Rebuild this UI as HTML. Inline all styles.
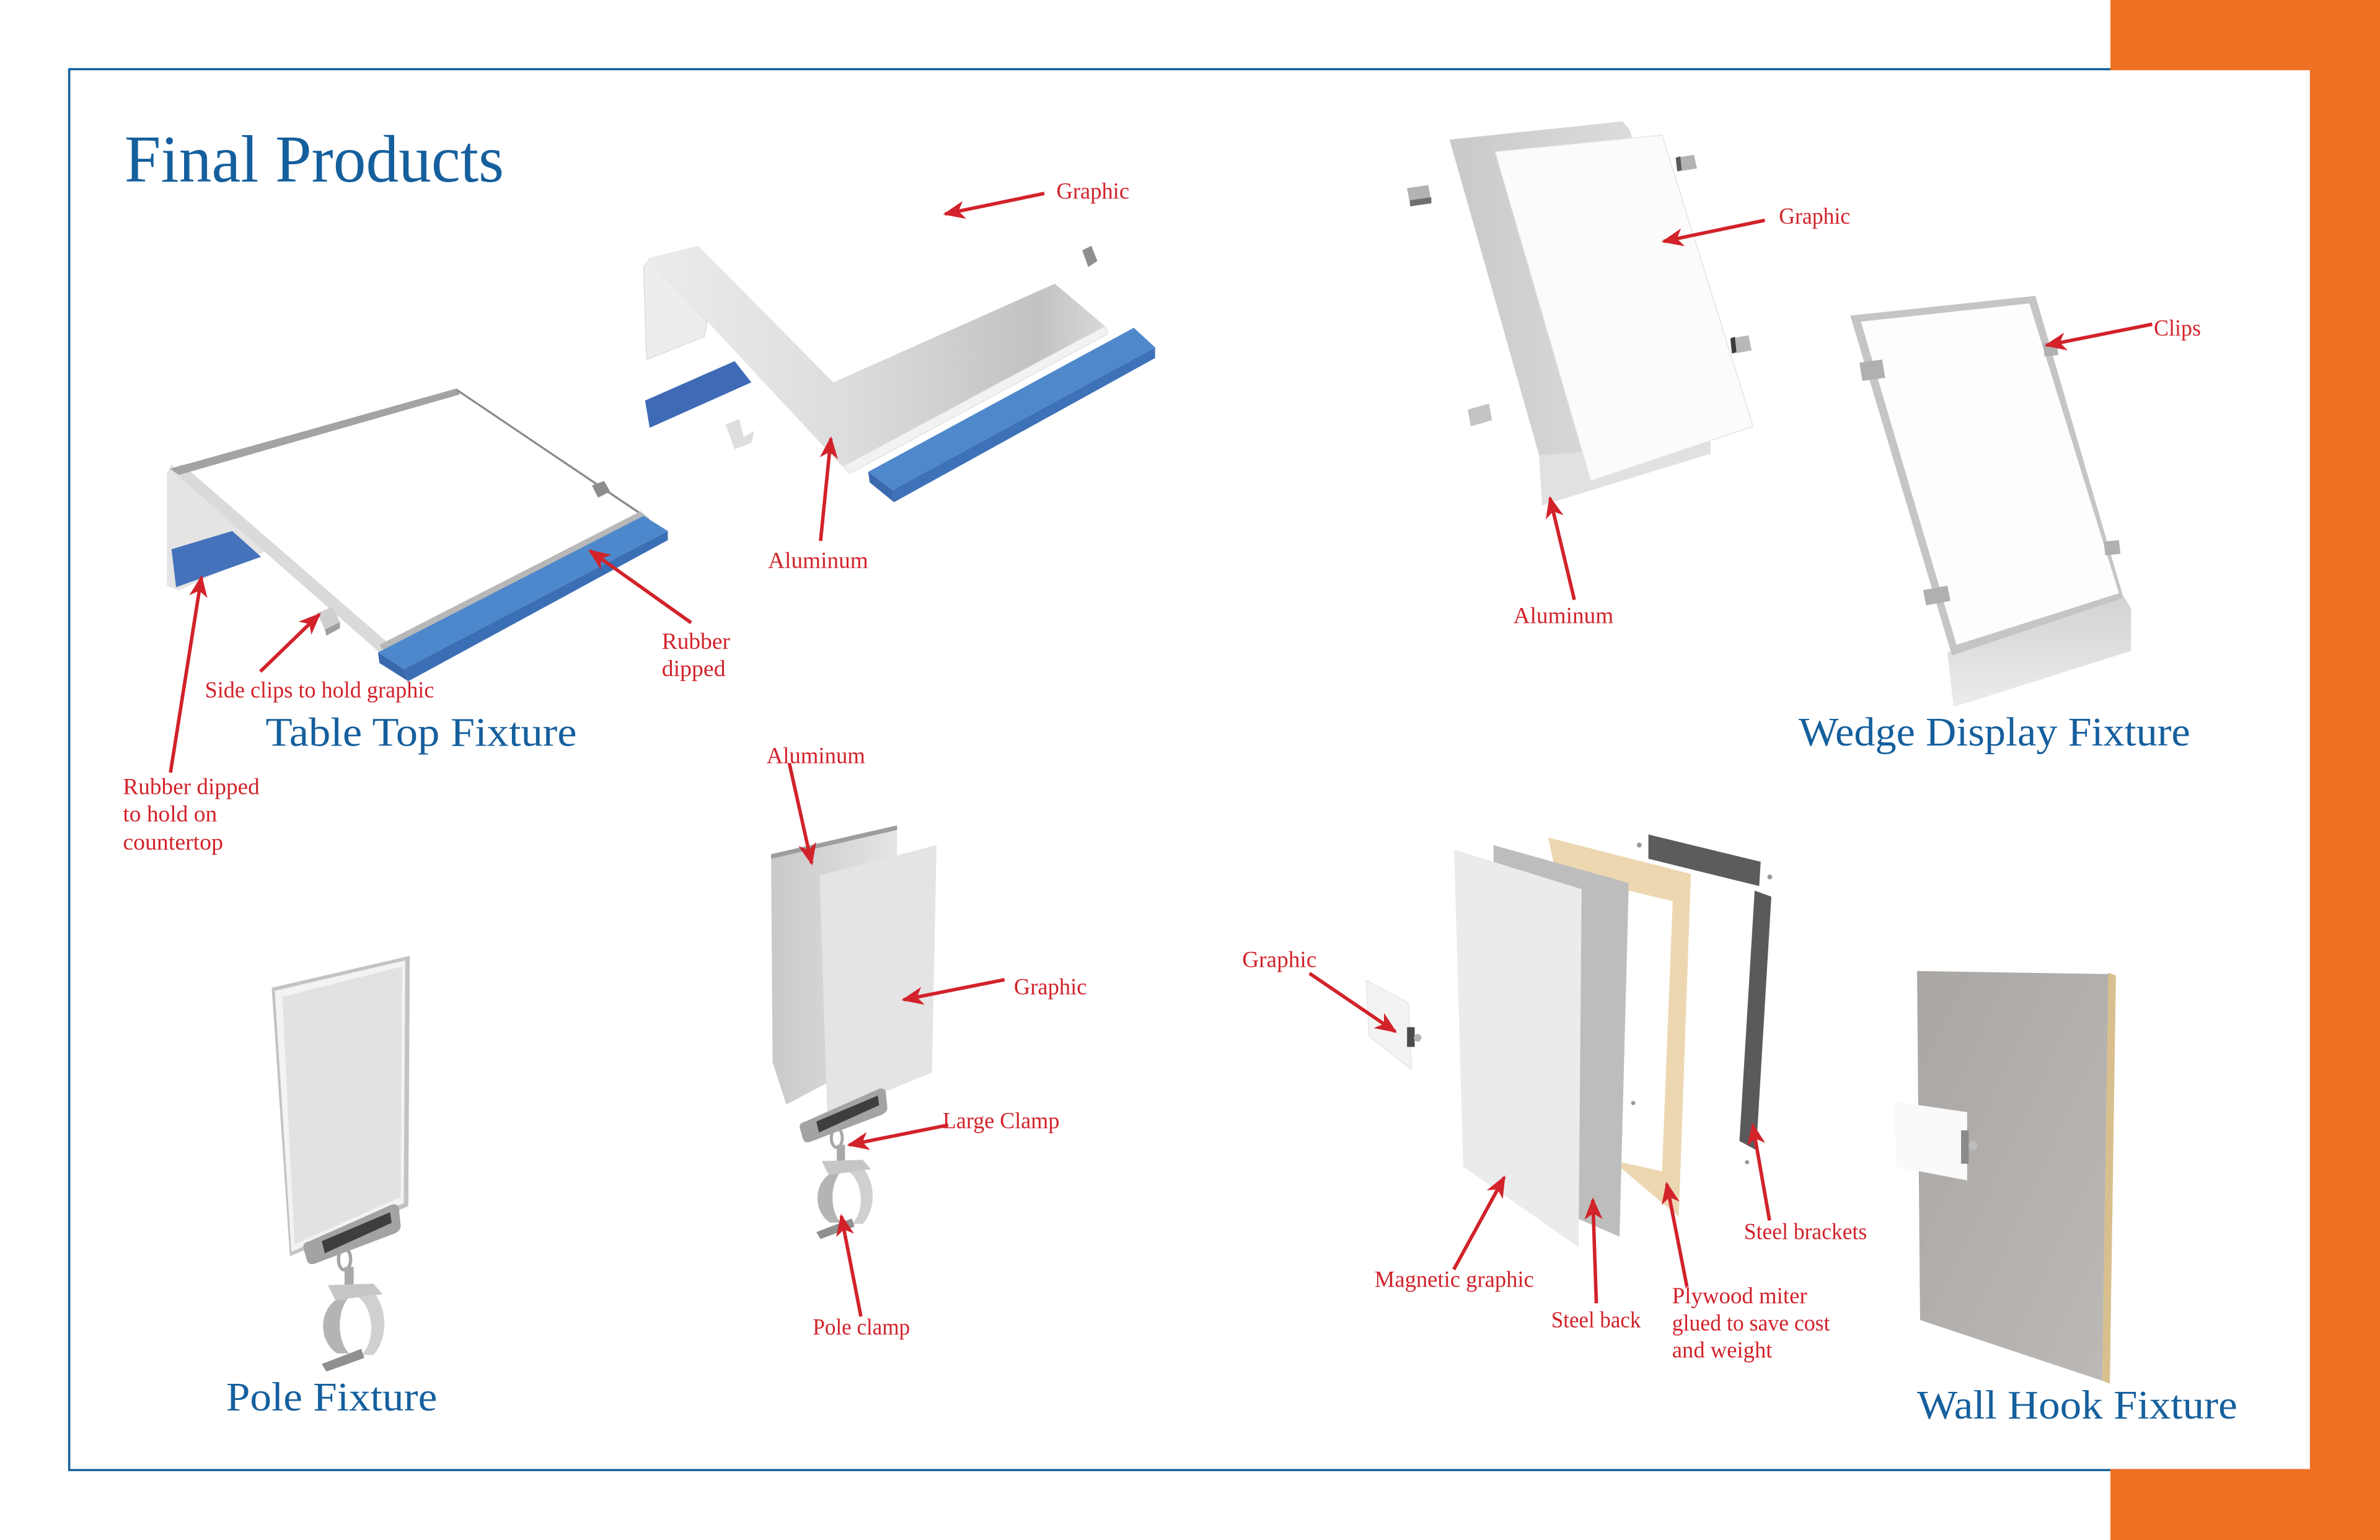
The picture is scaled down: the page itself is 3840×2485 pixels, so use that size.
<!DOCTYPE html>
<html>
<head>
<meta charset="utf-8">
<style>
html,body{margin:0;padding:0;background:#fff;}
body{width:3840px;height:2485px;overflow:hidden;position:relative;}
svg{position:absolute;left:0;top:0;}
</style>
</head>
<body>
<svg width="3840" height="2485" viewBox="0 0 1568 1015" preserveAspectRatio="none" xmlns="http://www.w3.org/2000/svg">
<defs>
  <marker id="ah" markerUnits="userSpaceOnUse" viewBox="-15 -8 17 16" markerWidth="17" markerHeight="16" refX="0" refY="0" orient="auto">
    <path d="M1.5,0 L-13,-6 L-9,0 L-13,6 Z" fill="#d2222a"/>
  </marker>
  <linearGradient id="gAl" x1="0" y1="0" x2="1" y2="0">
    <stop offset="0" stop-color="#c9c9c9"/><stop offset="1" stop-color="#e4e4e4"/>
  </linearGradient>
  <linearGradient id="gBand" x1="0" y1="0" x2="1" y2="0">
    <stop offset="0" stop-color="#ececec"/><stop offset="0.45" stop-color="#dcdcdc"/><stop offset="0.85" stop-color="#c2c2c2"/><stop offset="1" stop-color="#d8d8d8"/>
  </linearGradient>
  <linearGradient id="gWall" x1="0" y1="0" x2="1" y2="1">
    <stop offset="0" stop-color="#a9a6a3"/><stop offset="1" stop-color="#bcb9b6"/>
  </linearGradient>
  <linearGradient id="gBase" x1="0" y1="0" x2="0" y2="1">
    <stop offset="0" stop-color="#d3d3d3"/><stop offset="1" stop-color="#ececec"/>
  </linearGradient>
  <g id="clamp">
    <path d="M0,3 Q-1,-1 4,-2 L58,-26 Q63,-27 63,-22 L64,-12 Q64,-9 60,-7 L7,13 Q3,14 2,10 Z" fill="#a3a3a3"/>
    <path d="M12,-2 L57,-21 L58,-14 L14,6 Z" fill="#3e3e3e"/>
    <ellipse cx="27" cy="10" rx="4" ry="7" fill="none" stroke="#a5a5a5" stroke-width="2.2"/>
    <rect x="27" y="15" width="6" height="13" fill="#a9a9a9"/>
    <path d="M16,27 L46,26 L52,33 L21,37 Z" fill="#c6c6c6"/>
    <path d="M21,37 C10,45 10,64 22,72 L30,72 C22,64 22,45 29,36 Z" fill="#b4b4b4"/>
    <path d="M36,35 C46,42 48,64 38,73 L46,73 C56,62 55,43 47,33 Z" fill="#d0d0d0"/>
    <path d="M12,79 L38,69 L40,75 L15,84 Z" fill="#909090"/>
  </g>
</defs>

<!-- frame -->
<rect x="0" y="0" width="1568" height="1015" fill="#ffffff"/>
<rect x="1390.4" y="0" width="177.6" height="1015" fill="#ee7023"/>
<rect x="44.9" y="44.9" width="1345.5" height="1.4" fill="#0f5f9e"/>
<rect x="44.9" y="44.9" width="1.4" height="924.6" fill="#0f5f9e"/>
<rect x="44.9" y="968.2" width="1345.5" height="1.4" fill="#0f5f9e"/>
<rect x="1390.4" y="46.3" width="131.4" height="921.9" fill="#ffffff"/>

<!-- Title -->
<text x="82" y="119.6" font-family="Liberation Serif, serif" font-size="44" fill="#155f9d" textLength="250" lengthAdjust="spacingAndGlyphs">Final Products</text>

<!-- ===== Table top assembled ===== -->
<path d="M110,312 L113,306 L178,362 L118,389 L110,386 Z" fill="#e4e4e4"/>
<path d="M113,362 L153,350 L172,367 L116,387 Z" fill="#4472bb"/>
<path d="M113,309 L301,257 L424,339 L250,428 Z" fill="#ffffff" stroke="#d6d6d6" stroke-width="0.6"/>
<path d="M112,309 L120,306 L256,424 L250,430 Z" fill="#dadada"/>
<path d="M112,309 L301,256 L303,260 L118,313 Z" fill="#a3a3a3"/>
<path d="M301,257 L424,340" stroke="#8a8a8a" stroke-width="1.3" fill="none"/>
<path d="M250,425 L422,337 L428,342 L254,431 Z" fill="#b8b8b8"/>
<path d="M249,430 L424,340 L440,350 L266,441 Z" fill="#4d88cc"/>
<path d="M266,441 L440,350 L440,356 L269,449 Z" fill="#3b6fb5"/>
<path d="M249,430 L266,441 L269,449 L250,437 Z" fill="#3a68ad"/>
<path d="M390,320 L398,317 L402,324 L394,328 Z" fill="#8d8d8d"/>
<path d="M209,404 L219,400 L224,410 L214,415 Z" fill="#cfcfcf"/>
<path d="M214,415 L224,410 L224,414 L215,419 Z" fill="#a0a0a0"/>

<!-- ===== Table top exploded ===== -->
<path d="M424,176 L428,171 L466,212 L464,222 L426,237 Z" fill="#ededed" stroke="#dcdcdc" stroke-width="0.6"/>
<path d="M427,170 L460,162 L549,252 L695,187 L728,215 L556,307 L548,300 Z" fill="url(#gBand)"/>
<path d="M548,300 L556,307 L728,215 L730,220 L560,312 Z" fill="#f2f2f2" stroke="#dedede" stroke-width="0.5"/>
<path d="M425,264 L484,238 L495,252 L428,282 Z" fill="#3f6bb6"/>
<path d="M572,311 L747,216 L761,229 L588,323 Z" fill="#4f89cc"/>
<path d="M588,323 L761,229 L761,236 L589,331 Z" fill="#3e72b8"/>
<path d="M572,311 L588,323 L589,331 L573,318 Z" fill="#3a69ae"/>
<path d="M478,280 L487,276 L490,288 L497,284 L495,292 L484,296 Z" fill="#dedede"/>
<path d="M713,165 L719,162 L723,172 L717,176 Z" fill="#8e8e8e"/>

<!-- ===== Wedge exploded ===== -->
<path d="M955,92 L1069,80 L1074,86 L1127,292 L1127,299 L1016,333 L1014,300 Z" fill="url(#gAl)"/>
<path d="M1014,300 L1127,292 L1127,299 L1016,333 Z" fill="#e1e1e1"/>
<path d="M985,100 L1095,89 L1155,281 L1048,317 Z" fill="#fbfbfb" stroke="#e3e3e3" stroke-width="0.6"/>
<path d="M927,124 L941,122 L943,133 L929,135 Z" fill="#b3b3b3"/><path d="M929,132 L943,130 L943,134 L929,136 Z" fill="#6e6e6e"/>
<path d="M1104,104 L1116,102 L1118,111 L1106,113 Z" fill="#b3b3b3"/><path d="M1104,104 L1107,103 L1108,112 L1105,113 Z" fill="#5a5a5a"/>
<path d="M1140,223 L1152,221 L1154,231 L1142,233 Z" fill="#b8b8b8"/><path d="M1140,223 L1143,222 L1144,232 L1141,233 Z" fill="#3c3c3c"/>
<path d="M967,270 L981,266 L983,277 L969,281 Z" fill="#c4c4c4"/>

<!-- ===== Wedge assembled ===== -->
<path d="M1283,430 L1399,393 L1404,401 L1404,429 L1287,466 Z" fill="url(#gBase)"/>
<path d="M1219,208 L1341,195 L1399,394 L1286,432 Z" fill="#c5c5c5"/>
<path d="M1226,212 L1337,200 L1396,391 L1289,425 Z" fill="#fdfdfd"/>
<path d="M1225,239 L1240,237 L1242,249 L1227,251 Z" fill="#b0b0b0"/>
<path d="M1346,226 L1355,225 L1356,234 L1347,235 Z" fill="#b0b0b0"/>
<path d="M1386,357 L1396,356 L1397,365 L1387,366 Z" fill="#b0b0b0"/>
<path d="M1267,389 L1283,386 L1285,396 L1269,399 Z" fill="#b0b0b0"/>

<!-- ===== Pole assembled ===== -->
<path d="M179,651 L270,630 L269,795 L191,828 Z" fill="#c3c3c3"/>
<path d="M181,653 L267,633 L266,793 L192,825 Z" fill="#f3f3f3"/>
<path d="M186,657 L265,637 L264,789 L194,820 Z" fill="#e2e2e2"/>
<use href="#clamp" transform="translate(200,820)"/>

<!-- ===== Pole exploded ===== -->
<path d="M508,563 L591,544 L591,548 L590,690 L518,728 L509,700 Z" fill="url(#gAl)"/>
<path d="M508,563 L591,544 L591,547 L508,566 Z" fill="#9d9d9d"/>
<path d="M540,577 L617,557 L614,707 L545,735 Z" fill="#e4e4e4"/>
<use href="#clamp" transform="translate(527,741) scale(0.9)"/>

<!-- ===== Wall hook exploded ===== -->
<path fill-rule="evenodd" d="M1020,552 L1114,576 L1106,802 L1067,769 Z M1073,587 L1102,594 L1095,772 L1068,766 Z" fill="#ecd7b1"/>
<path d="M984,557 L1073,582 L1067,815 L985,780 Z" fill="#bdbdbd"/>
<path d="M958,560 L1042,586 L1040,822 L964,769 Z" fill="#ebebeb"/>
<path d="M1086,550 L1160,568 L1159,584 L1086,566 Z" fill="#5c5c5c"/>
<path d="M1156,587 L1167,591 L1157,758 L1146,752 Z" fill="#5a5a5a"/>
<circle cx="1080" cy="557" r="1.6" fill="#999"/><circle cx="1166" cy="578" r="1.6" fill="#999"/>
<circle cx="1076" cy="727" r="1.4" fill="#999"/><circle cx="1151" cy="766" r="1.4" fill="#999"/>
<path d="M900,646 L928,661 L930,705 L902,683 Z" fill="#f3f3f3" stroke="#e2e2e2" stroke-width="0.5"/>
<rect x="927" y="677" width="5" height="13" fill="#4a4a4a"/><circle cx="934" cy="684" r="2.5" fill="#b5b5b5"/>

<!-- ===== Wall hook assembled ===== -->
<path d="M1389,641 L1394,643 L1390,912 L1385,910 Z" fill="#d8bf8e"/>
<path d="M1263,640 L1389,642 L1385,910 L1265,870 Z" fill="url(#gWall)"/>
<path d="M1248,726 L1296,733 L1296,778 L1249,769 Z" fill="#fafafa"/>
<rect x="1292" y="745" width="5" height="22" fill="#8a8a8a"/><circle cx="1300" cy="755" r="3" fill="#bdbdbd"/>

<!-- ===== Section titles ===== -->
<g font-family="Liberation Serif, serif" font-size="27" fill="#155f9d">
  <text x="175" y="491.5" textLength="205" lengthAdjust="spacingAndGlyphs">Table Top Fixture</text>
  <text x="1185" y="491.3" textLength="258" lengthAdjust="spacingAndGlyphs">Wedge Display Fixture</text>
  <text x="149" y="929.7" textLength="139" lengthAdjust="spacingAndGlyphs">Pole Fixture</text>
  <text x="1263" y="935" textLength="211" lengthAdjust="spacingAndGlyphs">Wall Hook Fixture</text>
</g>

<!-- ===== Arrows ===== -->
<g stroke="#d2222a" stroke-width="2.3" fill="none" marker-end="url(#ah)">
  <line x1="688" y1="127.5" x2="622.7" y2="141"/>
  <line x1="540.6" y1="356.5" x2="547.4" y2="289"/>
  <line x1="455.3" y1="410.4" x2="388.7" y2="363"/>
  <line x1="171.5" y1="442.6" x2="210.3" y2="405"/>
  <line x1="112.3" y1="509.2" x2="132.7" y2="380.4"/>
  <line x1="1162.7" y1="145.2" x2="1096" y2="159.1"/>
  <line x1="1417.9" y1="213.7" x2="1348.3" y2="227.6"/>
  <line x1="1037.2" y1="395.3" x2="1021.2" y2="328.3"/>
  <line x1="520" y1="503" x2="534.7" y2="569"/>
  <line x1="661.8" y1="645.7" x2="595.3" y2="658.9"/>
  <line x1="624.7" y1="741.5" x2="559.4" y2="754.6"/>
  <line x1="567.2" y1="867.7" x2="554.3" y2="801.5"/>
  <line x1="862.7" y1="641.5" x2="919.2" y2="679.9"/>
  <line x1="957.8" y1="836.7" x2="991" y2="776"/>
  <line x1="1051.7" y1="859" x2="1049.4" y2="790.7"/>
  <line x1="1111.4" y1="848.1" x2="1098.1" y2="780.3"/>
  <line x1="1165.8" y1="804.4" x2="1154.8" y2="741.5"/>
</g>

<!-- ===== Red labels ===== -->
<g font-family="Liberation Serif, serif" font-size="15" fill="#d2222a">
  <text x="696" y="131" textLength="48" lengthAdjust="spacingAndGlyphs">Graphic</text>
  <text x="506" y="374.4" textLength="66" lengthAdjust="spacingAndGlyphs">Aluminum</text>
  <text x="436" y="427.7" textLength="45" lengthAdjust="spacingAndGlyphs">Rubber</text>
  <text x="436" y="445.7" textLength="42" lengthAdjust="spacingAndGlyphs">dipped</text>
  <text x="135" y="459.8" textLength="151" lengthAdjust="spacingAndGlyphs">Side clips to hold graphic</text>
  <text x="81" y="523.5" textLength="90" lengthAdjust="spacingAndGlyphs">Rubber dipped</text>
  <text x="81" y="541.5" textLength="62" lengthAdjust="spacingAndGlyphs">to hold on</text>
  <text x="81" y="560" textLength="66" lengthAdjust="spacingAndGlyphs">countertop</text>
  <text x="1172" y="147.4" textLength="47" lengthAdjust="spacingAndGlyphs">Graphic</text>
  <text x="1419" y="221.2" textLength="31" lengthAdjust="spacingAndGlyphs">Clips</text>
  <text x="997" y="410.6" textLength="66" lengthAdjust="spacingAndGlyphs">Aluminum</text>
  <text x="505" y="503" textLength="65" lengthAdjust="spacingAndGlyphs">Aluminum</text>
  <text x="668" y="655.4" textLength="48" lengthAdjust="spacingAndGlyphs">Graphic</text>
  <text x="621" y="743.6" textLength="77" lengthAdjust="spacingAndGlyphs">Large Clamp</text>
  <text x="535.5" y="879.6" textLength="64" lengthAdjust="spacingAndGlyphs">Pole clamp</text>
  <text x="818.4" y="637.4" textLength="49" lengthAdjust="spacingAndGlyphs">Graphic</text>
  <text x="905.6" y="848.2" textLength="105" lengthAdjust="spacingAndGlyphs">Magnetic graphic</text>
  <text x="1022" y="875" textLength="59" lengthAdjust="spacingAndGlyphs">Steel back</text>
  <text x="1101.6" y="859" textLength="89" lengthAdjust="spacingAndGlyphs">Plywood miter</text>
  <text x="1101.6" y="876.9" textLength="104" lengthAdjust="spacingAndGlyphs">glued to save cost</text>
  <text x="1101.6" y="894.7" textLength="66" lengthAdjust="spacingAndGlyphs">and weight</text>
  <text x="1149" y="816.7" textLength="81" lengthAdjust="spacingAndGlyphs">Steel brackets</text>
</g>
</svg>
</body>
</html>
